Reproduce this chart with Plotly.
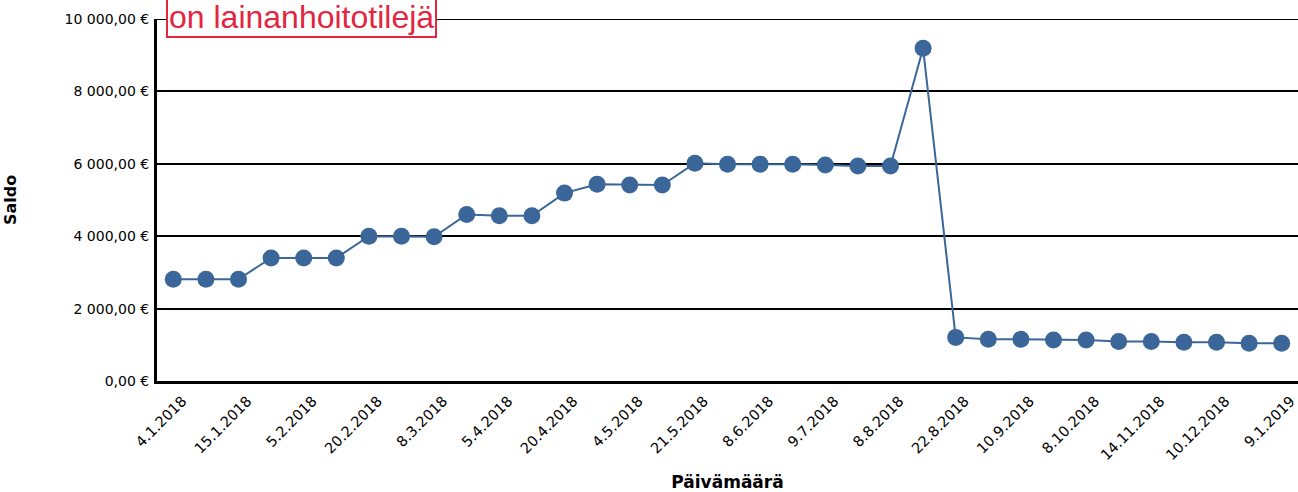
import plotly.graph_objects as go

# Saldo by payment date (one point per transaction)
tick_labels = [
    "4.1.2018", "15.1.2018", "5.2.2018", "20.2.2018", "8.3.2018", "5.4.2018",
    "20.4.2018", "4.5.2018", "21.5.2018", "8.6.2018", "9.7.2018", "8.8.2018",
    "22.8.2018", "10.9.2018", "8.10.2018", "14.11.2018", "10.12.2018", "9.1.2019",
]
saldo = [
    2810, 2810, 2810, 3400, 3400, 3400, 4000, 4000, 3985, 4600,
    4565, 4565, 5190, 5435, 5415, 5415, 6015, 5990, 5990, 5990,
    5965, 5940, 5940, 9190, 1205, 1152, 1152, 1133, 1133, 1088,
    1092, 1068, 1068, 1042, 1042,
]
y_ticks = [0, 2000, 4000, 6000, 8000, 10000]
note_text = "on lainanhoitotilejä"


def euro(v):
    """Finnish currency format: space as thousands separator, comma decimals."""
    s = f"{v:,.2f}".replace(",", " ").replace(".", ",")
    return s + " €"


x_idx = list(range(len(saldo)))
label_pos = x_idx[::2]

W, H = 1298, 492
M_L, M_R, M_T, M_B = 157, 0, 19, 111
plot_w = W - M_L - M_R
plot_h = H - M_T - M_B


def px_x(px):
    return (px - M_L) / plot_w


def px_y(px):
    return (H - M_B - px) / plot_h


line_color = "#3a6699"
note_red = "#e3263f"

fig = go.Figure(
    go.Scatter(
        x=x_idx,
        y=saldo,
        mode="lines+markers",
        line=dict(color=line_color, width=2),
        marker=dict(color=line_color, size=17),
        hoverinfo="skip",
    )
)

fig.update_layout(
    width=W,
    height=H,
    margin=dict(l=M_L, r=M_R, t=M_T, b=M_B, pad=0),
    paper_bgcolor="white",
    plot_bgcolor="white",
    showlegend=False,
    font=dict(family="DejaVu Sans", color="black"),
)

fig.update_xaxes(
    range=[-0.5, len(saldo) - 0.5],
    tickmode="array",
    tickvals=label_pos,
    ticktext=tick_labels,
    tickangle=-45,
    tickfont=dict(size=14.5, family="DejaVu Sans"),
    ticklabelshift=9,
    ticklabelstandoff=3,
    showgrid=False,
    zeroline=False,
    showline=True,
    linecolor="black",
    linewidth=3,
    ticks="",
    title=dict(text="<b>Päivämäärä</b>", font=dict(size=17, family="DejaVu Sans"), standoff=14),
)

fig.update_yaxes(
    range=[0, 10000],
    tickmode="array",
    tickvals=y_ticks,
    ticktext=[euro(v) for v in y_ticks],
    tickfont=dict(size=14, family="DejaVu Sans"),
    showgrid=True,
    gridcolor="black",
    gridwidth=2,
    zeroline=False,
    showline=True,
    linecolor="black",
    linewidth=3,
    ticks="",
    ticklabelstandoff=2,
    title=dict(text="<b>Saldo</b>", font=dict(size=16, family="DejaVu Sans"), standoff=44),
)

# Top gridline at the range edge
fig.add_shape(
    type="line",
    xref="paper",
    yref="y",
    x0=0,
    x1=1,
    y0=y_ticks[-1],
    y1=y_ticks[-1],
    line=dict(color="black", width=2),
    layer="below",
)

# Red frame of the note; its upper edge runs off the top of the page
fig.add_shape(
    type="rect",
    xref="paper",
    yref="paper",
    x0=px_x(167),
    x1=px_x(436),
    y0=px_y(37),
    y1=px_y(-40),
    line=dict(color=note_red, width=2),
    fillcolor="white",
    layer="above",
)

fig.add_annotation(
    text=note_text,
    xref="paper",
    yref="paper",
    x=px_x(166),
    y=px_y(38),
    xanchor="left",
    yanchor="bottom",
    showarrow=False,
    font=dict(family="Liberation Sans", size=32, color=note_red),
    bgcolor="rgba(0,0,0,0)",
    bordercolor="rgba(0,0,0,0)",
    borderwidth=2,
    borderpad=1,
)

fig.write_html("out.html")
